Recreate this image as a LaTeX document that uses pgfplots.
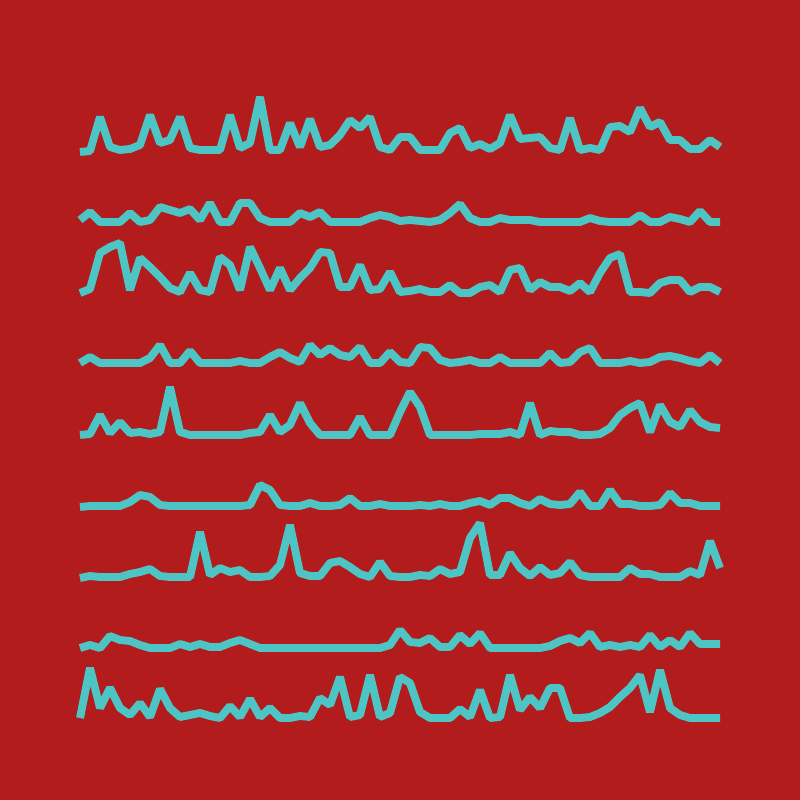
\documentclass[border=0pt]{standalone}
\usepackage{pgfplots}
\usepackage{pgfplotstable}
\pgfplotsset{compat=1.18}
\definecolor{bgred}{RGB}{178,28,28}
\definecolor{lineteal}{RGB}{78,197,197}
\pgfplotstableread{
x l1 l2 l3 l4 l5 l6 l7 l8 l9
80 152 220 293 363 435 507 578 648 718
90 151 212 289 357 434 506 576 645 668
100 117 222 253 363 415 506 577 648 708
110 147 222 247 363 433 506 577 636 688
120 150 222 243 363 422 506 577 640 708
130 149 213 290 363 433 502 574 641 715
140 145 222 258 363 432 495 572 645 703
150 115 220 267 358 434 497 569 648 717
160 143 207 277 345 432 505 576 648 689
170 140 210 288 363 387 506 577 648 708
180 117 213 292 363 432 506 577 644 717
190 148 209 273 351 435 506 577 647 715
200 150 220 290 363 435 506 532 644 713
210 150 203 292 363 435 506 575 647 716
220 150 222 257 363 435 506 568 647 718
230 115 222 265 363 435 506 572 643 706
240 148 203 290 361 435 506 570 640 717
250 143 203 247 363 433 505 577 644 699
260 97 218 268 363 432 485 577 648 717
270 150 222 290 357 415 490 576 648 708
280 150 222 268 352 432 505 565 648 718
290 123 222 290 358 425 506 525 648 718
300 147 213 278 362 403 506 573 648 716
310 119 217 268 345 423 503 576 648 717
320 147 212 252 355 435 506 576 648 698
330 145 222 253 348 435 506 563 648 705
340 135 222 287 355 435 505 561 648 677
350 120 222 287 357 435 498 567 648 717
360 128 222 265 347 417 506 574 648 715
370 117 218 290 363 435 506 577 648 675
380 147 215 289 363 435 504 562 648 717
390 150 217 272 352 435 506 576 645 713
400 137 221 292 362 412 506 577 630 677
410 137 220 291 363 392 506 577 642 683
420 150 221 289 347 407 505 575 643 712
430 150 222 292 348 435 506 576 638 718
440 150 220 292 360 435 504 569 647 718
450 133 213 285 363 435 506 574 647 718
460 128 204 293 362 435 506 572 635 709
470 148 218 293 360 435 503 538 644 717
480 144 222 287 363 434 501 523 633 690
490 149 222 285 363 434 505 575 648 718
500 143 218 292 357 434 498 575 648 717
510 115 220 270 363 432 498 553 648 675
520 139 220 268 363 435 503 568 648 710
530 138 220 290 363 403 506 576 648 697
540 137 222 282 363 435 499 567 648 708
550 148 222 287 353 431 504 575 646 688
560 150 222 287 363 432 505 573 641 688
570 118 222 291 362 432 504 562 638 718
580 150 222 283 352 435 492 575 643 718
590 148 218 292 348 435 506 577 633 717
600 150 221 273 363 434 506 577 647 713
610 127 222 258 363 428 490 577 645 707
620 126 222 254 363 415 504 577 647 697
630 132 222 292 361 408 504 568 645 688
640 108 215 292 363 403 506 574 647 675
650 127 222 293 362 432 506 574 635 712
660 122 222 283 357 405 505 577 647 670
670 140 217 280 356 422 493 577 640 708
680 140 219 280 358 427 503 577 647 715
690 149 222 292 361 410 503 571 633 718
700 149 211 287 363 422 506 575 644 718
710 140 222 287 355 427 506 541 644 718
720 147 222 292 363 428 506 568 644 718
}\datatable
\tikzset{tealline/.style={lineteal, solid, line width=2.8pt, line join=bevel, mark=none}}
\begin{document}
\begin{tikzpicture}
\begin{axis}[
  scale only axis, width=10cm, height=10cm,
  xmin=0, xmax=800, ymin=0, ymax=800, y dir=reverse,
  axis lines=none, ticks=none,
  axis background/.style={fill=bgred},
]
\addplot[tealline] table[x=x,y=l1]{\datatable};
\addplot[tealline] table[x=x,y=l2]{\datatable};
\addplot[tealline] table[x=x,y=l3]{\datatable};
\addplot[tealline] table[x=x,y=l4]{\datatable};
\addplot[tealline] table[x=x,y=l5]{\datatable};
\addplot[tealline] table[x=x,y=l6]{\datatable};
\addplot[tealline] table[x=x,y=l7]{\datatable};
\addplot[tealline] table[x=x,y=l8]{\datatable};
\addplot[tealline] table[x=x,y=l9]{\datatable};
\end{axis}
\end{tikzpicture}
\end{document}
